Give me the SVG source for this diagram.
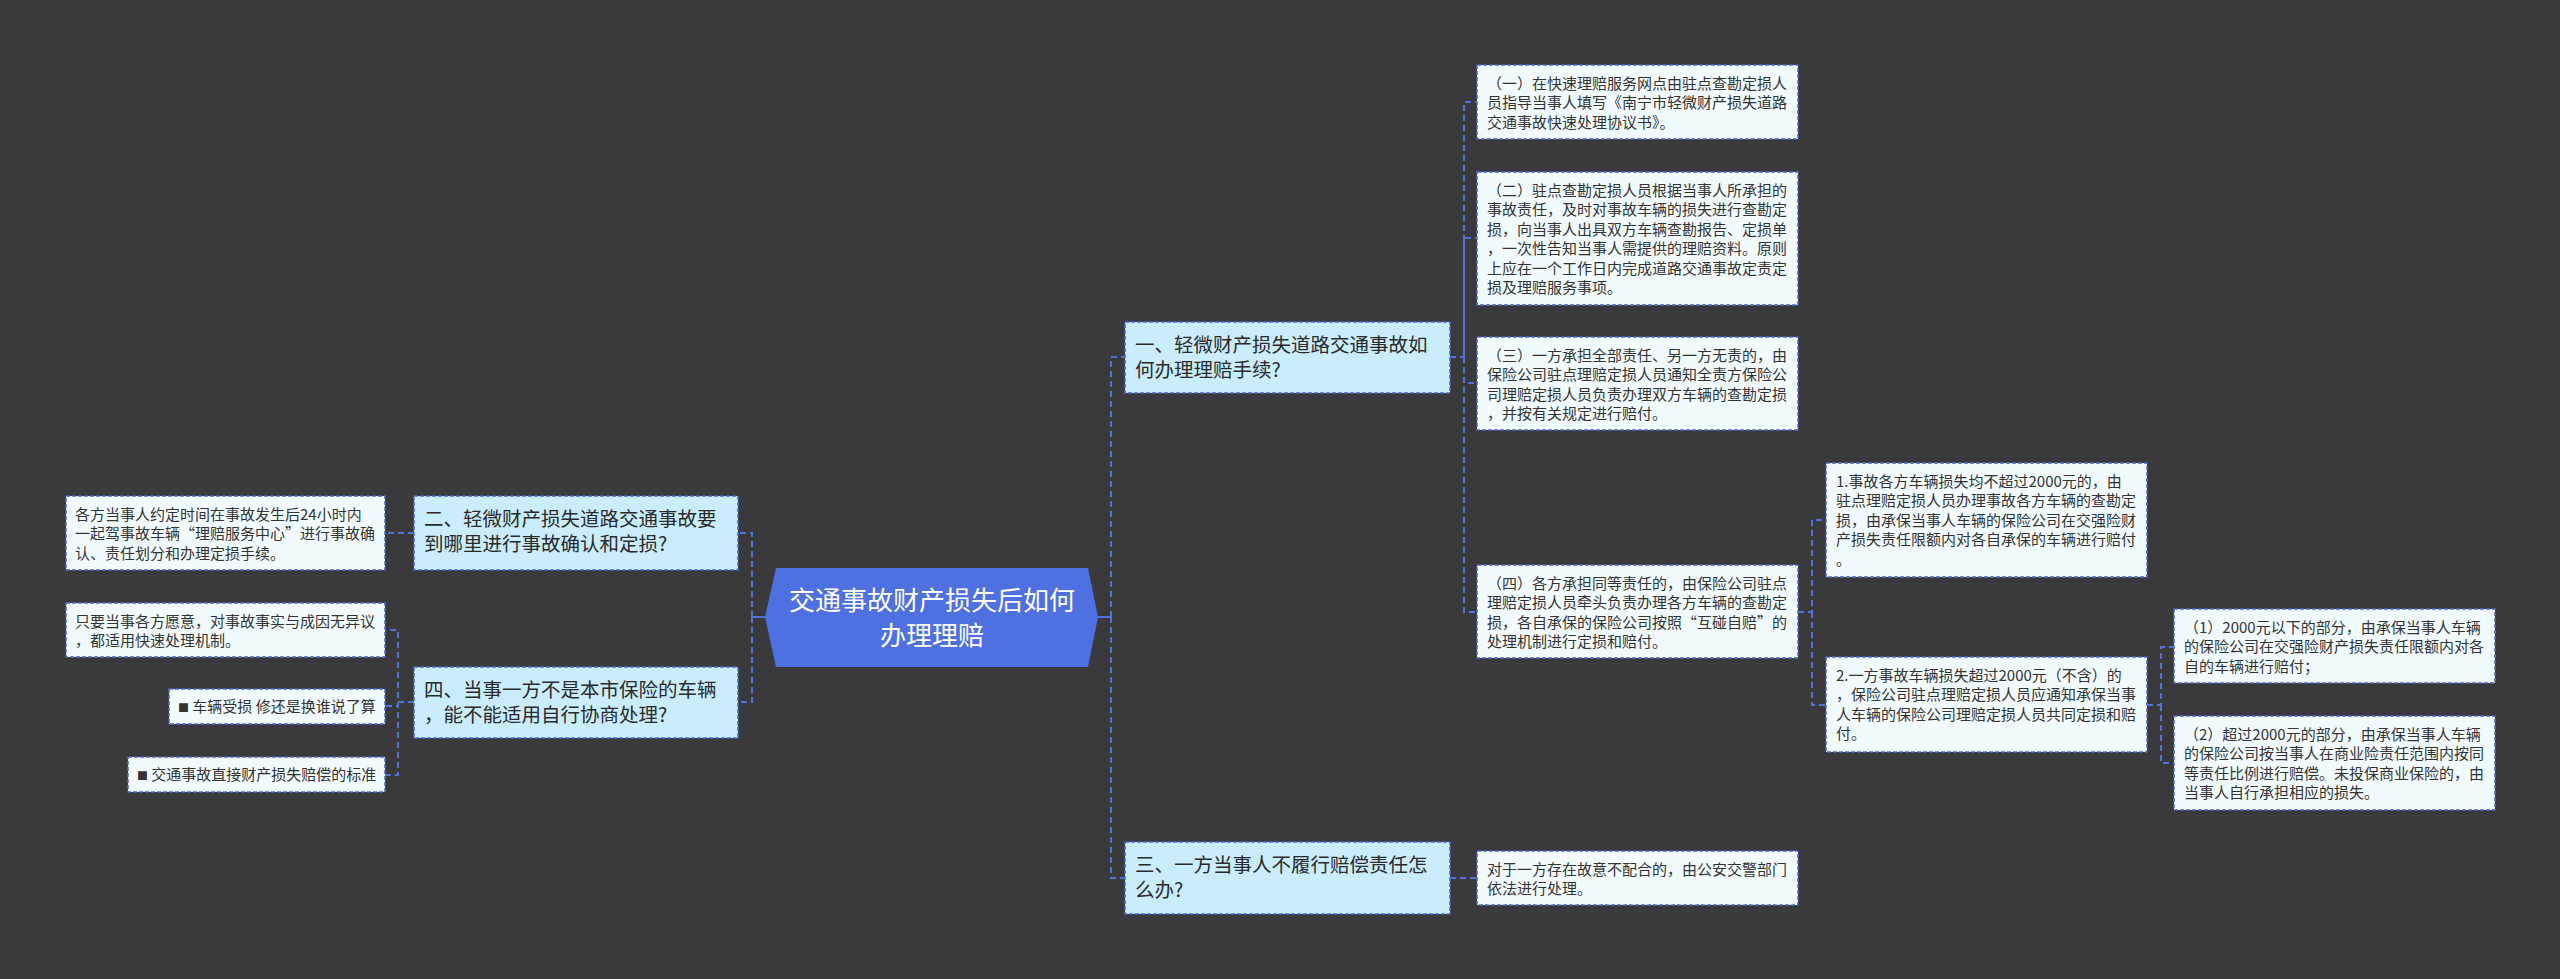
<svg xmlns="http://www.w3.org/2000/svg" width="2560" height="979" viewBox="0 0 2560 979">
<style>
.bg{fill:#3a393b}
.leaf rect{fill:#f1fbfe;stroke:#4d66c9;stroke-width:1.5;stroke-dasharray:4 2}
.l1 rect{fill:#c9edfc;stroke:#4d66c9;stroke-width:1.5;stroke-dasharray:4 2}
text{font-family:"Noto Sans CJK SC","Noto Sans",sans-serif;fill:#333333}
.t15{font-size:15px}
.t19{font-size:19.5px;fill:#2a2a2a}
.tc{font-size:26px;fill:#ffffff;text-anchor:middle}
.sq{font-size:11px}
.conn path{fill:none;stroke:#5472dc;stroke-width:2;stroke-dasharray:6 4}
.conn path.solid{stroke-dasharray:none}
</style>
<rect class="bg" x="0" y="0" width="2560" height="979"/>

<g id="connectors" class="conn">
<path class="solid" d="M1098,617 H1111"/>
<path d="M1111,617 V357 H1125"/>
<path d="M1111,617 V878 H1125"/>
<path class="solid" d="M765,617 H752"/>
<path d="M752,617 V533 H738"/>
<path d="M752,617 V702 H738"/>
<path d="M414,533 H385"/>
<path d="M414,702 H398 V630 H385"/>
<path d="M398,702 V706 H385"/>
<path d="M398,702 V775 H385"/>
<path d="M1450,357 H1464 V102 H1477"/>
<path d="M1464,357 V238 H1477"/>
<path d="M1464,357 V383 H1477"/>
<path d="M1464,357 V612 H1477"/>
<path d="M1798,612 H1812 V520 H1826"/>
<path d="M1812,612 V705 H1826"/>
<path d="M2147,705 H2161 V647 H2174"/>
<path d="M2161,705 V763 H2174"/>
<path d="M1450,878 H1477"/>
</g>

<g id="center">
<polygon points="776,568 1088,568 1098,617 1088,667 776,667 765,617" fill="#4f70e0"/>
<text class="tc"><tspan x="932" y="610">交通事故财产损失后如何</tspan><tspan x="932" y="645">办理理赔</tspan></text>
</g>

<g id="n1" class="l1">
<rect x="1125" y="322" width="325" height="71"/>
<text class="t19"><tspan x="1135" y="351.5">一、轻微财产损失道路交通事故如</tspan><tspan x="1135" y="376.5">何办理理赔手续?</tspan></text>
</g>

<g id="n2" class="l1">
<rect x="414" y="496" width="324" height="74"/>
<text class="t19"><tspan x="424" y="526">二、轻微财产损失道路交通事故要</tspan><tspan x="424" y="551">到哪里进行事故确认和定损?</tspan></text>
</g>

<g id="n3" class="l1">
<rect x="1125" y="842" width="325" height="72"/>
<text class="t19"><tspan x="1135" y="871.5">三、一方当事人不履行赔偿责任怎</tspan><tspan x="1135" y="896.5">么办?</tspan></text>
</g>

<g id="n4" class="l1">
<rect x="414" y="667" width="324" height="71"/>
<text class="t19"><tspan x="424" y="696.5">四、当事一方不是本市保险的车辆</tspan><tspan x="424" y="721.5">，能不能适用自行协商处理?</tspan></text>
</g>

<g id="leaf1" class="leaf">
<rect x="1477" y="65" width="321" height="74"/>
<text class="t15"><tspan x="1487" y="88.5">（一）在快速理赔服务网点由驻点查勘定损人</tspan><tspan x="1487" y="108">员指导当事人填写《南宁市轻微财产损失道路</tspan><tspan x="1487" y="127.5">交通事故快速处理协议书》。</tspan></text>
</g>

<g id="leaf2" class="leaf">
<rect x="1477" y="172" width="321" height="133"/>
<text class="t15"><tspan x="1487" y="195.5">（二）驻点查勘定损人员根据当事人所承担的</tspan><tspan x="1487" y="215">事故责任，及时对事故车辆的损失进行查勘定</tspan><tspan x="1487" y="234.5">损，向当事人出具双方车辆查勘报告、定损单</tspan><tspan x="1487" y="254">，一次性告知当事人需提供的理赔资料。原则</tspan><tspan x="1487" y="273.5">上应在一个工作日内完成道路交通事故定责定</tspan><tspan x="1487" y="293">损及理赔服务事项。</tspan></text>
</g>

<g id="leaf3" class="leaf">
<rect x="1477" y="337" width="321" height="93"/>
<text class="t15"><tspan x="1487" y="360.5">（三）一方承担全部责任、另一方无责的，由</tspan><tspan x="1487" y="380">保险公司驻点理赔定损人员通知全责方保险公</tspan><tspan x="1487" y="399.5">司理赔定损人员负责办理双方车辆的查勘定损</tspan><tspan x="1487" y="419">，并按有关规定进行赔付。</tspan></text>
</g>

<g id="leaf4" class="leaf">
<rect x="1477" y="565" width="321" height="93"/>
<text class="t15"><tspan x="1487" y="588.5">（四）各方承担同等责任的，由保险公司驻点</tspan><tspan x="1487" y="608">理赔定损人员牵头负责办理各方车辆的查勘定</tspan><tspan x="1487" y="627.5">损，各自承保的保险公司按照“互碰自赔”的</tspan><tspan x="1487" y="647">处理机制进行定损和赔付。</tspan></text>
</g>

<g id="sub1" class="leaf">
<rect x="1826" y="463" width="321" height="114"/>
<text class="t15"><tspan x="1836" y="486.5">1.事故各方车辆损失均不超过2000元的，由</tspan><tspan x="1836" y="506">驻点理赔定损人员办理事故各方车辆的查勘定</tspan><tspan x="1836" y="525.5">损，由承保当事人车辆的保险公司在交强险财</tspan><tspan x="1836" y="545">产损失责任限额内对各自承保的车辆进行赔付</tspan><tspan x="1836" y="564.5">。</tspan></text>
</g>

<g id="sub2" class="leaf">
<rect x="1826" y="657" width="321" height="95"/>
<text class="t15"><tspan x="1836" y="680.5">2.一方事故车辆损失超过2000元（不含）的</tspan><tspan x="1836" y="700">，保险公司驻点理赔定损人员应通知承保当事</tspan><tspan x="1836" y="719.5">人车辆的保险公司理赔定损人员共同定损和赔</tspan><tspan x="1836" y="739">付。</tspan></text>
</g>

<g id="subsub1" class="leaf">
<rect x="2174" y="609" width="321" height="74"/>
<text class="t15"><tspan x="2184" y="632.5">（1）2000元以下的部分，由承保当事人车辆</tspan><tspan x="2184" y="652">的保险公司在交强险财产损失责任限额内对各</tspan><tspan x="2184" y="671.5">自的车辆进行赔付；</tspan></text>
</g>

<g id="subsub2" class="leaf">
<rect x="2174" y="716" width="321" height="94"/>
<text class="t15"><tspan x="2184" y="739.5">（2）超过2000元的部分，由承保当事人车辆</tspan><tspan x="2184" y="759">的保险公司按当事人在商业险责任范围内按同</tspan><tspan x="2184" y="778.5">等责任比例进行赔偿。未投保商业保险的，由</tspan><tspan x="2184" y="798">当事人自行承担相应的损失。</tspan></text>
</g>

<g id="leaf5" class="leaf">
<rect x="1477" y="851" width="321" height="54"/>
<text class="t15"><tspan x="1487" y="874.5">对于一方存在故意不配合的，由公安交警部门</tspan><tspan x="1487" y="894">依法进行处理。</tspan></text>
</g>

<g id="leftleaf1" class="leaf">
<rect x="66" y="496" width="319" height="74"/>
<text class="t15"><tspan x="75" y="519.5">各方当事人约定时间在事故发生后24小时内</tspan><tspan x="75" y="539">一起驾事故车辆“理赔服务中心”进行事故确</tspan><tspan x="75" y="558.5">认、责任划分和办理定损手续。</tspan></text>
</g>

<g id="leftleaf2" class="leaf">
<rect x="66" y="603" width="319" height="54"/>
<text class="t15"><tspan x="75" y="626.5">只要当事各方愿意，对事故事实与成因无异议</tspan><tspan x="75" y="646">，都适用快速处理机制。</tspan></text>
</g>

<g id="leftleaf3" class="leaf">
<rect x="169" y="689" width="216" height="35"/>
<text class="t15" x="178" y="712"><tspan class="sq">■</tspan> 车辆受损 修还是换谁说了算</text>
</g>

<g id="leftleaf4" class="leaf">
<rect x="128" y="757" width="257" height="35"/>
<text class="t15" x="137" y="780"><tspan class="sq">■</tspan> 交通事故直接财产损失赔偿的标准</text>
</g>
</svg>
